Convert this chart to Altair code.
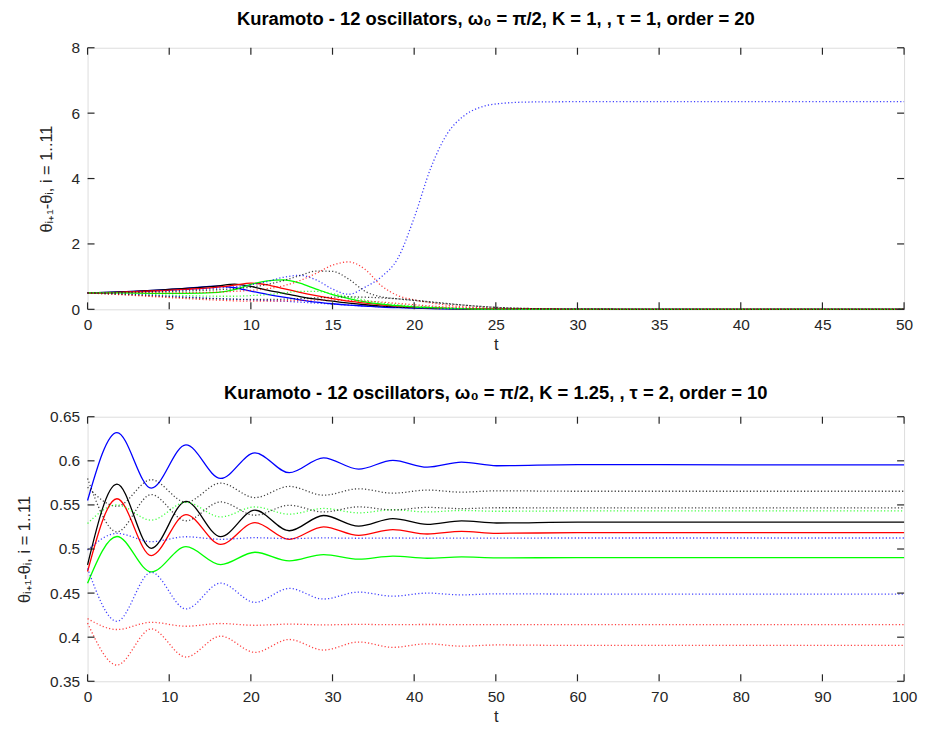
import altair as alt
import pandas as pd

# ---------------- data: top panel (K = 1, tau = 1, order = 20) ----------------
top_t = [0, 2, 4, 6, 8, 9, 10, 11, 12, 13, 14, 15, 16, 17, 18, 19, 20, 21, 22, 23, 24, 25, 27, 30, 35, 40, 50]
top_s01 = [0.50, 0.53, 0.58, 0.64, 0.71, 0.66, 0.56, 0.46, 0.37, 0.29, 0.22, 0.17, 0.13, 0.10, 0.07, 0.05, 0.035, 0.025, 0.015, 0.01, 0.005, 0.003, 0.0, 0.0, 0.0, 0.0, 0.0]
top_s02 = [0.50, 0.53, 0.58, 0.64, 0.72, 0.77, 0.70, 0.59, 0.49, 0.39, 0.31, 0.25, 0.19, 0.14, 0.10, 0.07, 0.05, 0.03, 0.02, 0.012, 0.007, 0.004, 0.001, 0.0, 0.0, 0.0, 0.0]
top_s03 = [0.50, 0.52, 0.56, 0.61, 0.68, 0.74, 0.80, 0.75, 0.63, 0.52, 0.42, 0.33, 0.25, 0.19, 0.14, 0.10, 0.07, 0.05, 0.03, 0.02, 0.01, 0.006, 0.002, 0.0, 0.0, 0.0, 0.0]
top_s04 = [0.50, 0.50, 0.49, 0.49, 0.52, 0.60, 0.76, 0.87, 0.90, 0.80, 0.62, 0.45, 0.33, 0.23, 0.16, 0.11, 0.07, 0.05, 0.03, 0.02, 0.01, 0.006, 0.002, 0.0, 0.0, 0.0, 0.0]
top_s05 = [0.50, 0.52, 0.55, 0.59, 0.65, 0.69, 0.75, 0.85, 0.98, 1.04, 0.90, 0.62, 0.46, 0.68, 1.00, 1.56, 2.80, 4.30, 5.35, 5.90, 6.17, 6.28, 6.34, 6.35, 6.35, 6.35, 6.35]
top_s06 = [0.50, 0.51, 0.53, 0.56, 0.60, 0.63, 0.68, 0.76, 0.88, 1.03, 1.17, 1.16, 0.92, 0.55, 0.38, 0.32, 0.27, 0.22, 0.17, 0.13, 0.09, 0.06, 0.025, 0.005, 0.0, 0.0, 0.0]
top_s07 = [0.50, 0.50, 0.50, 0.51, 0.53, 0.55, 0.58, 0.63, 0.72, 0.88, 1.10, 1.35, 1.45, 1.22, 0.72, 0.42, 0.29, 0.20, 0.13, 0.08, 0.05, 0.03, 0.01, 0.0, 0.0, 0.0, 0.0]
top_s08 = [0.50, 0.48, 0.45, 0.42, 0.40, 0.40, 0.42, 0.45, 0.50, 0.55, 0.55, 0.48, 0.38, 0.28, 0.20, 0.14, 0.10, 0.07, 0.05, 0.03, 0.02, 0.01, 0.0, 0.0, 0.0, 0.0, 0.0]
top_s09 = [0.50, 0.47, 0.43, 0.38, 0.33, 0.31, 0.29, 0.27, 0.25, 0.22, 0.19, 0.16, 0.13, 0.10, 0.08, 0.06, 0.04, 0.03, 0.02, 0.015, 0.01, 0.005, 0.0, 0.0, 0.0, 0.0, 0.0]
top_s10 = [0.50, 0.46, 0.41, 0.36, 0.32, 0.31, 0.30, 0.30, 0.31, 0.33, 0.35, 0.37, 0.38, 0.37, 0.35, 0.32, 0.28, 0.23, 0.18, 0.13, 0.09, 0.06, 0.025, 0.005, 0.0, 0.0, 0.0]
top_s11 = [0.50, 0.45, 0.39, 0.33, 0.28, 0.26, 0.25, 0.25, 0.26, 0.27, 0.28, 0.28, 0.27, 0.25, 0.22, 0.18, 0.14, 0.10, 0.07, 0.05, 0.03, 0.02, 0.01, 0.0, 0.0, 0.0, 0.0]

# ---------------- data: bottom panel (K = 1.25, tau = 2, order = 10) ----------------
bot_t = [0, 3.6, 7.8, 12.05, 16.3, 20.5, 24.7, 28.9, 33.2, 37.4, 41.6, 45.8, 50.1, 60, 80, 100]
bot_s01 = [0.555, 0.632, 0.569, 0.618, 0.580, 0.609, 0.5865, 0.6034, 0.5906, 0.6005, 0.5928, 0.5985, 0.5944, 0.5957, 0.5955, 0.5955]
bot_s02 = [0.482, 0.5735, 0.5008, 0.554, 0.514, 0.544, 0.5207, 0.538, 0.526, 0.5345, 0.528, 0.532, 0.5295, 0.5305, 0.5305, 0.5305]
bot_s03 = [0.4745, 0.557, 0.4925, 0.539, 0.5053, 0.530, 0.511, 0.5252, 0.5155, 0.522, 0.517, 0.520, 0.5178, 0.5185, 0.5185, 0.5185]
bot_s04 = [0.4613, 0.5142, 0.474, 0.5026, 0.4823, 0.4963, 0.4865, 0.4937, 0.4885, 0.492, 0.4895, 0.491, 0.490, 0.4902, 0.4902, 0.4902]
bot_s05 = [0.499, 0.5177, 0.5083, 0.5139, 0.511, 0.5128, 0.5118, 0.5126, 0.5122, 0.5125, 0.5123, 0.5124, 0.5124, 0.5125, 0.5125, 0.5125]
bot_s06 = [0.570, 0.5485, 0.5786, 0.553, 0.5748, 0.5583, 0.571, 0.561, 0.5683, 0.5633, 0.5668, 0.5645, 0.566, 0.5655, 0.5655, 0.5655]
bot_s07 = [0.421, 0.4087, 0.4169, 0.4124, 0.4155, 0.4135, 0.4148, 0.414, 0.4145, 0.4142, 0.4144, 0.4143, 0.4143, 0.4143, 0.4143, 0.4143]
bot_s08 = [0.529, 0.550, 0.5327, 0.553, 0.5364, 0.5477, 0.5395, 0.546, 0.541, 0.5445, 0.542, 0.5437, 0.5428, 0.5432, 0.5432, 0.5432]
bot_s09 = [0.478, 0.418, 0.4736, 0.432, 0.4613, 0.4395, 0.4553, 0.4433, 0.4511, 0.4465, 0.450, 0.448, 0.4492, 0.4489, 0.4489, 0.4489]
bot_s10 = [0.580, 0.5195, 0.5617, 0.532, 0.5534, 0.5383, 0.5496, 0.542, 0.5478, 0.5443, 0.5472, 0.5458, 0.5468, 0.5466, 0.5466, 0.5466]
bot_s11 = [0.416, 0.3684, 0.4094, 0.3775, 0.4012, 0.3828, 0.3974, 0.3854, 0.3945, 0.3885, 0.3925, 0.3898, 0.3912, 0.3906, 0.3906, 0.3906]

# ---------------- styling lists ----------------
series_names = ["s01", "s02", "s03", "s04", "s05", "s06", "s07", "s08", "s09", "s10", "s11"]
series_colors = ["#0000ff", "#000000", "#ff0000", "#00ff00",
                 "#0000ff", "#000000", "#ff0000", "#00ff00",
                 "#0000ff", "#000000", "#ff0000"]
solid_names = series_names[:4]

top_x_ticks = [0, 5, 10, 15, 20, 25, 30, 35, 40, 45, 50]
top_y_ticks = [0, 2, 4, 6, 8]
bot_x_ticks = [0, 10, 20, 30, 40, 50, 60, 70, 80, 90, 100]
bot_y_ticks = [0.35, 0.4, 0.45, 0.5, 0.55, 0.6, 0.65]

top_title = "Kuramoto - 12 oscillators, \u03c9\u2080 = \u03c0/2, K = 1, , \u03c4 = 1, order = 20"
bot_title = "Kuramoto - 12 oscillators, \u03c9\u2080 = \u03c0/2, K = 1.25, , \u03c4 = 2, order = 10"
y_title = "\u03b8\u1d62\u208a\u2081-\u03b8\u1d62, i = 1..11"

FONT = "Liberation Sans"
AX = "#262626"


def long_df(t, lists):
    rows = []
    for name, vals in zip(series_names, lists):
        for tt, vv in zip(t, vals):
            rows.append({"t": tt, "v": vv, "s": name})
    return pd.DataFrame(rows)


def panel(df, xdom, ydom, xticks, yticks, title, W, H, yfmt, toff):
    xenc = alt.X("t:Q", scale=alt.Scale(domain=xdom, nice=False, zero=False),
                 axis=alt.Axis(values=xticks, title="t", ticks=False, domain=False, grid=False,
                               labelPadding=8, titlePadding=4, labelFontSize=15.5, titleFontSize=16.5,
                               labelFont=FONT, titleFont=FONT, titleFontWeight="normal",
                               labelColor=AX, titleColor=AX, labelFlush=False))
    yenc = alt.Y("v:Q", scale=alt.Scale(domain=ydom, nice=False, zero=False),
                 axis=alt.Axis(values=yticks, format=yfmt, title=y_title, ticks=False, domain=False,
                               grid=False, labelPadding=8, titlePadding=17, labelFontSize=15.5,
                               titleFontSize=16.5, labelFont=FONT, titleFont=FONT,
                               titleFontWeight="normal", labelColor=AX, titleColor=AX,
                               labelFlush=False))
    color = alt.Color("s:N", scale=alt.Scale(domain=series_names, range=series_colors), legend=None)

    solid = alt.Chart(df[df["s"].isin(solid_names)]).mark_line(
        strokeWidth=1.3, interpolate="monotone").encode(x=xenc, y=yenc, color=color, detail="s:N")
    dotted = alt.Chart(df[~df["s"].isin(solid_names)]).mark_line(
        strokeWidth=1.3, strokeDash=[1.2, 2.2], opacity=0.75, interpolate="monotone").encode(
        x=xenc, y=yenc, color=color, detail="s:N")

    xt = pd.DataFrame({"t": xticks})
    yt = pd.DataFrame({"v": yticks})
    tick_b = alt.Chart(xt).mark_rule(color=AX, strokeWidth=1.2).encode(
        x=xenc, y=alt.value(H), y2=alt.value(H - 7))
    tick_t = alt.Chart(xt).mark_rule(color=AX, strokeWidth=1.2).encode(
        x=xenc, y=alt.value(0), y2=alt.value(7))
    tick_l = alt.Chart(yt).mark_rule(color=AX, strokeWidth=1.2).encode(
        y=yenc, x=alt.value(0), x2=alt.value(7))
    tick_r = alt.Chart(yt).mark_rule(color=AX, strokeWidth=1.2).encode(
        y=yenc, x=alt.value(W - 7), x2=alt.value(W))

    return alt.layer(solid, dotted, tick_b, tick_t, tick_l, tick_r).properties(
        width=W, height=H,
        title=alt.TitleParams(title, font=FONT, fontSize=18.5, fontWeight="bold", color="#000000",
                              anchor="middle", offset=toff))


top_df = long_df(top_t, [top_s01, top_s02, top_s03, top_s04, top_s05, top_s06,
                         top_s07, top_s08, top_s09, top_s10, top_s11])
bot_df = long_df(bot_t, [bot_s01, bot_s02, bot_s03, bot_s04, bot_s05, bot_s06,
                         bot_s07, bot_s08, bot_s09, bot_s10, bot_s11])

top = panel(top_df, [0, 50], [0, 8], top_x_ticks, top_y_ticks, top_title, 821, 263, "d", 12)
bot = panel(bot_df, [0, 100], [0.35, 0.65], bot_x_ticks, bot_y_ticks, bot_title, 821, 266, ".2~f", 7)

chart = alt.vconcat(top, bot, spacing=108, bounds="flush").properties(
    padding={"left": 8, "top": 0, "right": 0, "bottom": 0}
).configure_view(stroke=AX, strokeWidth=1.2).configure(background="white")

chart.save("out.html", embed_options={"renderer": "svg", "actions": False})
